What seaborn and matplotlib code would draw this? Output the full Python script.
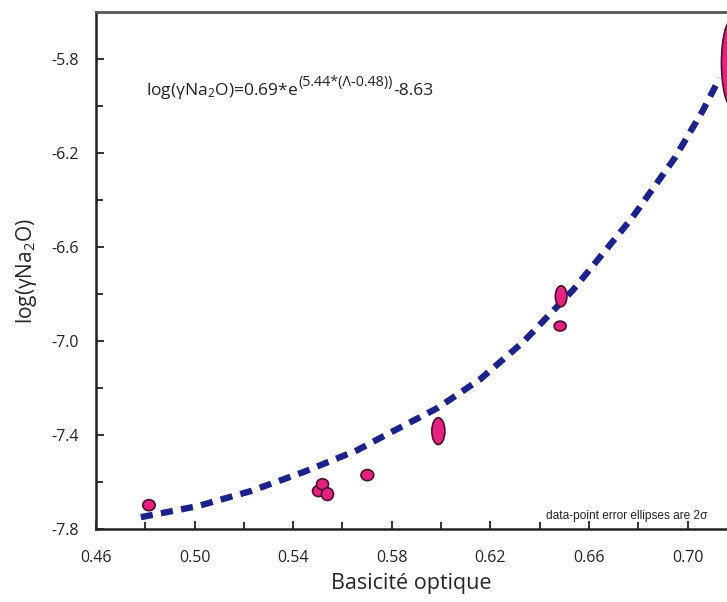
import matplotlib
matplotlib.use("Agg")
import matplotlib.pyplot as plt
from matplotlib.patches import Ellipse
import seaborn as sns
import pandas as pd

sns.set_style("ticks")
plt.rcParams['font.family'] = ['Open Sans', 'DejaVu Sans']
plt.rcParams['mathtext.fontset'] = 'custom'
plt.rcParams['mathtext.rm'] = 'Open Sans'
plt.rcParams['mathtext.it'] = 'Open Sans'
plt.rcParams['mathtext.default'] = 'regular'

# fitted curve
curve_x = [0.4782, 0.5013, 0.5228, 0.5442, 0.5660, 0.5782, 0.5985, 0.6159,
           0.6333, 0.6535, 0.6774, 0.6948, 0.7061, 0.7130]
curve_y = [-7.749, -7.702, -7.638, -7.557, -7.464, -7.396, -7.285, -7.162,
           -7.004, -6.783, -6.477, -6.221, -6.021, -5.881]

# data points with 2-sigma error ellipses (full width / height in data units)
pt_x = [0.4815, 0.5503, 0.5519, 0.5539, 0.5701, 0.5989, 0.6487, 0.6483, 0.7180]
pt_y = [-7.698, -7.638, -7.609, -7.651, -7.570, -7.383, -6.809, -6.936, -5.817]
err_x = [0.0050, 0.0049, 0.0049, 0.0049, 0.0052, 0.0053, 0.0047, 0.0049, 0.0085]
err_y = [0.047, 0.047, 0.047, 0.054, 0.047, 0.114, 0.089, 0.042, 0.370]

xticks = [0.46, 0.50, 0.54, 0.58, 0.62, 0.66, 0.70]
yticks = [-5.8, -6.2, -6.6, -7.0, -7.4, -7.8]

curve_df = pd.DataFrame({"basicity": curve_x, "logNa2O": curve_y})

fig = plt.figure(figsize=(7.27, 6.02), dpi=100)
ax = fig.add_axes([0.132, 0.121, 0.868, 0.859])

sns.lineplot(data=curve_df, x="basicity", y="logNa2O", ax=ax, color="#1c2388",
             linewidth=4.6, dashes=False, zorder=2)
ax.lines[0].set_dashes((1.9, 1.3))
ax.lines[0].set_dash_capstyle("butt")

for x, y, w, h in zip(pt_x, pt_y, err_x, err_y):
    ax.add_patch(Ellipse((x, y), w, h, facecolor="#e5227f", edgecolor="#4a1030",
                         linewidth=1.2, zorder=3))

ax.set_xlim(0.46, 0.716)
ax.set_ylim(-7.8, -5.6)
ax.set_xticks(xticks)
ax.set_xticklabels([f"{t:.2f}" for t in xticks])
ax.set_xticks([0.48, 0.52, 0.56, 0.60, 0.64, 0.68], minor=True)
ax.set_yticks(yticks)
ax.set_yticklabels([f"{t:.1f}" for t in yticks])
ax.tick_params(which="both", direction="in", length=6, width=1.3, colors="#222222",
               labelsize=11.5, pad=12)
ax.tick_params(axis="x", pad=15)
ax.set_yticks([-6.0, -6.4, -6.8, -7.2, -7.6], minor=True)
ax.tick_params(which="minor", length=5)

for side in ["left", "bottom"]:
    ax.spines[side].set_linewidth(1.8)
    ax.spines[side].set_color("#222222")
ax.spines["top"].set_linewidth(2)
ax.spines["top"].set_color("#555555")
ax.spines["right"].set_visible(False)

ax.set_xlabel("Basicité optique", fontsize=15.5, labelpad=5)
ax.set_ylabel(r"log(γNa$_2$O)", fontsize=15, labelpad=9)

# fit equation: main text, raised exponent, constant
base_y = -5.955
t1 = ax.text(0.4802, base_y, r"log(γNa$_2$O)=0.69*e", fontsize=12.5,
             va="baseline", color="#222222")
t2 = ax.annotate("(5.44*(Λ-0.48))", xy=(1, base_y), xycoords=(t1, "data"),
                 xytext=(0.3, 6.5), textcoords="offset points", fontsize=10.3,
                 va="baseline", color="#222222")
ax.annotate("-8.63", xy=(1, base_y), xycoords=(t2, "data"),
            xytext=(0.3, 0), textcoords="offset points", fontsize=12.5,
            va="baseline", color="#222222")

ax.text(0.6425, -7.755, "data-point error ellipses are 2σ",
        fontsize=8.6, family=["Liberation Sans", "DejaVu Sans"], color="#222222")

fig.savefig("out.png", dpi=100)
